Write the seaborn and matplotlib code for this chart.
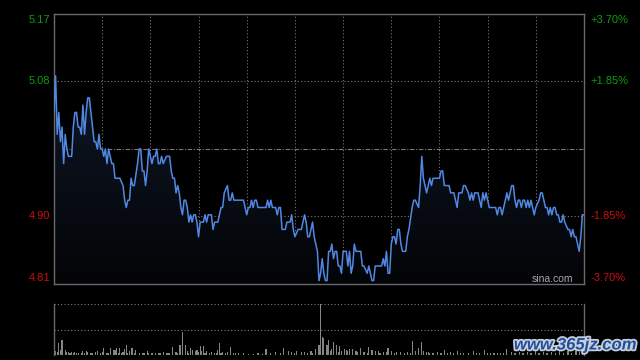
import matplotlib
matplotlib.use("Agg")
import matplotlib.pyplot as plt
import matplotlib.patheffects as pe
from matplotlib.colors import LinearSegmentedColormap
import numpy as np
import pandas as pd
import seaborn as sns

# --- data -------------------------------------------------------------
prev_close = 4.99
pct_levels = [3.70, 1.85, -1.85, -3.70]
session_minutes = 330  # HK session: 9:30-12:00, 13:00-16:00

minutes = [0, 1, 2, 3, 4, 5, 6, 7, 8, 9, 11, 12, 13, 14, 15, 16, 17, 18, 19, 20,
           21, 22, 24, 25, 26, 27, 28, 29, 30, 31, 32, 33, 34, 36, 37, 38, 40, 41, 43, 44,
           45, 46, 47, 48, 49, 50, 52, 53, 54, 55, 56, 57, 58, 59, 60, 61, 62, 63, 64, 65,
           66, 67, 68, 70, 72, 73, 74, 75, 76, 77, 78, 79, 80, 81, 82, 83, 84, 85, 86, 87,
           88, 89, 90, 91, 93, 94, 95, 96, 98, 99, 100, 102, 103, 104, 105, 106, 108, 109, 110, 111,
           112, 118, 119, 120, 121, 122, 123, 124, 125, 126, 127, 132, 133, 134, 135, 136, 138, 139, 140, 141,
           142, 144, 145, 147, 148, 149, 150, 152, 154, 155, 156, 157, 158, 159, 160, 161, 162, 163, 164, 165,
           166, 167, 168, 169, 170, 171, 172, 173, 174, 175, 176, 177, 178, 179, 180, 182, 183, 184, 185, 186,
           187, 188, 190, 191, 192, 193, 195, 196, 197, 198, 199, 200, 204, 205, 206, 207, 208, 209, 210, 211,
           212, 213, 214, 215, 216, 217, 219, 220, 221, 223, 224, 225, 227, 228, 229, 230, 232, 233, 234, 235,
           236, 240, 241, 242, 243, 246, 247, 249, 251, 252, 254, 255, 256, 258, 259, 260, 261, 262, 264, 265,
           266, 267, 268, 269, 270, 271, 275, 276, 277, 278, 279, 281, 282, 283, 284, 285, 286, 287, 288, 289,
           290, 291, 292, 293, 294, 295, 296, 297, 299, 300, 302, 303, 304, 305, 306, 307, 308, 309, 310, 311,
           312, 313, 314, 315, 316, 317, 318, 320, 321, 322, 323, 324, 325, 327, 328, 329, 330]
prices = [5.04, 5.09, 5.01, 5.04, 5.00, 5.02, 4.97, 5.01, 4.99, 4.98, 4.98, 5.02, 5.04, 5.04, 5.02, 5.02, 5.01, 5.05, 5.01, 5.04,
          5.06, 5.06, 5.02, 5.00, 5.00, 4.99, 5.01, 4.99, 4.99, 4.98, 4.99, 4.97, 4.99, 4.97, 4.97, 4.95, 4.95, 4.95, 4.94, 4.92,
          4.91, 4.92, 4.92, 4.95, 4.94, 4.94, 4.97, 4.99, 4.99, 4.96, 4.96, 4.94, 4.96, 4.99, 4.98, 4.97, 4.98, 4.98, 4.99, 4.97,
          4.97, 4.98, 4.97, 4.98, 4.98, 4.96, 4.95, 4.95, 4.93, 4.94, 4.93, 4.91, 4.90, 4.92, 4.92, 4.91, 4.89, 4.90, 4.89, 4.90,
          4.90, 4.89, 4.87, 4.89, 4.89, 4.90, 4.89, 4.90, 4.90, 4.88, 4.89, 4.89, 4.90, 4.91, 4.91, 4.93, 4.94, 4.92, 4.92, 4.93,
          4.92, 4.92, 4.91, 4.90, 4.91, 4.91, 4.92, 4.91, 4.92, 4.92, 4.91, 4.91, 4.92, 4.91, 4.92, 4.91, 4.91, 4.90, 4.91, 4.91,
          4.88, 4.88, 4.89, 4.89, 4.90, 4.88, 4.87, 4.88, 4.88, 4.89, 4.90, 4.89, 4.87, 4.87, 4.88, 4.89, 4.87, 4.86, 4.85, 4.81,
          4.82, 4.84, 4.82, 4.81, 4.81, 4.85, 4.85, 4.86, 4.84, 4.85, 4.85, 4.83, 4.83, 4.82, 4.85, 4.85, 4.83, 4.85, 4.82, 4.83,
          4.86, 4.85, 4.85, 4.85, 4.83, 4.83, 4.82, 4.83, 4.82, 4.81, 4.81, 4.83, 4.83, 4.84, 4.83, 4.85, 4.82, 4.82, 4.86, 4.87,
          4.87, 4.86, 4.88, 4.88, 4.86, 4.85, 4.85, 4.87, 4.88, 4.91, 4.92, 4.92, 4.91, 4.94, 4.98, 4.95, 4.93, 4.94, 4.95, 4.94,
          4.95, 4.95, 4.96, 4.96, 4.94, 4.94, 4.93, 4.93, 4.91, 4.93, 4.93, 4.94, 4.94, 4.93, 4.92, 4.93, 4.92, 4.93, 4.93, 4.92,
          4.91, 4.93, 4.92, 4.93, 4.92, 4.91, 4.91, 4.90, 4.91, 4.91, 4.90, 4.92, 4.93, 4.92, 4.93, 4.94, 4.94, 4.92, 4.91, 4.92,
          4.92, 4.91, 4.92, 4.92, 4.91, 4.92, 4.91, 4.92, 4.90, 4.91, 4.92, 4.93, 4.93, 4.92, 4.91, 4.91, 4.90, 4.91, 4.90, 4.91,
          4.91, 4.90, 4.90, 4.89, 4.89, 4.90, 4.89, 4.88, 4.88, 4.87, 4.88, 4.87, 4.87, 4.85, 4.87, 4.90, 4.90]

# volume, as % of the session maximum: the visible spikes ...
vol_minutes = [1, 2, 3, 4, 5, 7, 8, 9, 10, 11, 13, 15, 18, 20, 21, 26, 27, 31, 33, 35,
               37, 38, 39, 41, 44, 45, 47, 48, 49, 51, 55, 58, 61, 65, 68, 71, 74, 76, 78, 79,
               80, 82, 83, 85, 86, 88, 89, 91, 92, 93, 95, 98, 100, 102, 103, 105, 108, 110, 113, 118,
               124, 132, 138, 143, 146, 148, 151, 154, 156, 160, 163, 165, 166, 167, 168, 170, 171, 173, 174, 176,
               178, 179, 181, 182, 184, 186, 188, 191, 193, 196, 198, 200, 202, 205, 208, 210, 213, 216, 220, 223,
               225, 227, 229, 230, 233, 236, 239, 243, 247, 251, 255, 261, 265, 268, 274, 278, 282, 285, 290, 295,
               300, 305, 310, 315, 320, 325, 329]
vol_pct = [7, 5, 23, 10, 29, 10, 5, 5, 3, 5, 6, 4, 8, 8, 5, 6, 7, 14, 4, 13,
           9, 10, 13, 13, 12, 20, 8, 13, 13, 9, 4, 7, 3, 4, 6, 3, 16, 6, 20, 20,
           45, 20, 8, 13, 10, 8, 9, 17, 8, 17, 7, 6, 4, 9, 24, 5, 6, 16, 3, 3,
           2, 12, 5, 14, 8, 5, 7, 5, 6, 8, 12, 20, 100, 36, 33, 20, 29, 12, 26, 20,
           17, 8, 12, 10, 12, 12, 8, 13, 6, 16, 9, 8, 8, 6, 13, 8, 6, 5, 5, 28,
           8, 14, 26, 8, 5, 4, 6, 10, 5, 8, 4, 8, 4, 10, 4, 4, 12, 5, 6, 5,
           8, 6, 5, 7, 8, 10, 12]
# ... and the low bars in between
vol_minutes_low = [12, 14, 17, 19, 23, 24, 29, 30, 34, 40, 42, 43, 46, 50, 53, 56, 59, 63, 66, 70,
                   72, 77, 84, 90, 94, 97, 101, 104, 107, 112, 115, 121, 127, 130, 135, 141, 150, 158, 161, 172,
                   177, 183, 189, 195, 203, 207, 212, 218, 222, 232, 234, 241, 245, 249, 253, 258, 263, 270, 272, 276,
                   280, 287, 292, 297, 302, 307, 312, 317, 322, 327]
vol_low = [3, 4, 3, 4, 3, 4, 3, 5, 3, 4, 3, 5, 3, 4, 3, 4, 3, 4, 3, 4,
           3, 4, 3, 5, 4, 3, 3, 4, 3, 3, 3, 2, 3, 2, 3, 3, 4, 3, 4, 8,
           6, 7, 5, 4, 4, 5, 4, 3, 4, 5, 3, 4, 3, 4, 3, 4, 3, 4, 3, 3,
           3, 4, 3, 4, 3, 4, 3, 4, 4, 5]

df = pd.DataFrame({"minute": minutes, "price": prices})
vol = pd.DataFrame({"minute": vol_minutes + vol_minutes_low,
                    "volume": vol_pct + vol_low})

# --- styling ----------------------------------------------------------
sns.set_style("dark", {"axes.facecolor": "black", "figure.facecolor": "black"})
plt.rcParams['font.family'] = ['Liberation Sans', 'DejaVu Sans']

GRID = '#7a7a7a'
SPINE = '#6a6a6a'
UP = '#0f9a0f'
DOWN = '#cc0c0c'
LINE = '#5088e4'
dotted = (0, (1, 2))

ymin = prev_close * (1 - pct_levels[0] / 100)
ymax = prev_close * (1 + pct_levels[0] / 100)

fig = plt.figure(figsize=(6.4, 3.6), dpi=100, facecolor='black')
ax = fig.add_axes([54 / 640, 76 / 360, 530 / 640, 270 / 360])
axv = fig.add_axes([54 / 640, 5 / 360, 530 / 640, 51 / 360])

# --- price panel --------------------------------------------------------
ax.set_facecolor('black')
for s in ax.spines.values():
    s.set_color(SPINE)
    s.set_linewidth(1.0)

for m in range(30, session_minutes, 30):
    ax.axvline(m, color=GRID, lw=0.8, ls=dotted, zorder=0.5)
for pct in pct_levels[1:3]:
    ax.axhline(prev_close * (1 + pct / 100), color=GRID, lw=0.8, ls=dotted, zorder=0.5)
ax.axhline(prev_close, color=GRID, lw=0.8, ls=(0, (4, 1.5, 1, 1.5)), zorder=0.5)

# gradient fill under the price line
fill = ax.fill_between(df['minute'], df['price'], ymin, color='none', lw=0)
cmap = LinearSegmentedColormap.from_list('navy', ['#030406', '#121d31'])
grad = np.linspace(1, 0, 256).reshape(-1, 1)
im = ax.imshow(grad, extent=[0, session_minutes, ymin, ymax], aspect='auto',
               cmap=cmap, origin='upper', zorder=1)
im.set_clip_path(fill.get_paths()[0], transform=ax.transData)

sns.lineplot(data=df, x='minute', y='price', ax=ax, color=LINE, lw=1.1,
             estimator=None, zorder=3)

ax.set_xlim(0, session_minutes)
ax.set_ylim(ymin, ymax)
ax.set_xticks([])
ax.set_yticks([])
ax.set_xlabel('')
ax.set_ylabel('')

for pct in pct_levels:
    val = prev_close * (1 + pct / 100)
    col = UP if pct > 0 else DOWN
    if pct == pct_levels[0]:
        va, dy = 'top', -1
    elif pct == pct_levels[-1]:
        va, dy = 'bottom', 1
    else:
        va, dy = 'center', 0
    ax.annotate(f'{val:.2f}', xy=(0, val), xycoords=('axes fraction', 'data'),
                xytext=(-2.5, dy), textcoords='offset points',
                ha='right', va=va, color=col, fontsize=8)
    ax.annotate(f'{pct:+.2f}%', xy=(1, val), xycoords=('axes fraction', 'data'),
                xytext=(4.5, dy), textcoords='offset points',
                ha='left', va=va, color=col, fontsize=8)

ax.text(0.979, 0.02, 'sina.com', transform=ax.transAxes, ha='right', va='center',
        color='#a8a8a8', fontsize=7.5, zorder=4)

# --- volume panel -------------------------------------------------------
axv.set_facecolor('black')
for side in ['left', 'right']:
    axv.spines[side].set_color(SPINE)
    axv.spines[side].set_linewidth(1.0)
axv.spines['top'].set_visible(False)
axv.spines['bottom'].set_visible(False)
for lvl in [50, 100]:
    axv.axhline(lvl, color=GRID, lw=0.8, ls=dotted, zorder=0.5)

axv.bar(vol['minute'], vol['volume'], width=0.7, color='#858585', lw=0, zorder=2)
axv.set_xlim(0, session_minutes)
axv.set_ylim(0, 100)
axv.set_xticks([])
axv.set_yticks([])

fig.text(575 / 640, 15 / 360, 'www.365jz.com', ha='center', va='center',
         color='#1f4f9f', fontsize=12, fontweight='bold', fontstyle='italic',
         path_effects=[pe.withStroke(linewidth=2.5, foreground='#c8d0dc')])

fig.savefig('out.png', dpi=100, facecolor='black')
